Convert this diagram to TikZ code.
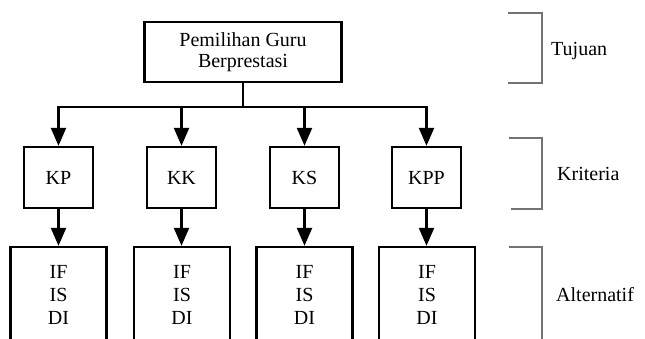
\documentclass[tikz,border=0pt]{standalone}
\usepackage{fontspec}
\setmainfont{Liberation Serif}
\usetikzlibrary{arrows.meta}

\begin{document}
\begin{tikzpicture}[
  x=1pt,y=-1pt,
  >={Triangle[length=18pt,width=15pt]},
  font=\fontsize{20}{21}\selectfont,
  box/.style={rectangle,draw=black,line width=2.4pt,inner sep=0pt,align=center},
  goal/.style={box,minimum width=197pt,minimum height=60pt},
  crit/.style={box,minimum width=69pt,minimum height=61pt},
  alt/.style={box,minimum width=96pt,minimum height=96pt,
              font=\fontsize{20}{23}\selectfont},
  wire/.style={line width=2.4pt,draw=black},
  arr/.style={->,line width=2.4pt,draw=black},
  brk/.style={draw=black!55,line width=1.5pt},
  lbl/.style={anchor=base west,inner sep=0pt},
]
  \path[use as bounding box] (0,0) rectangle (645,338);
  \clip (0,0) rectangle (645,338);

  % nodes
  \node[goal] (goal) at (243,52) {Pemilihan Guru\\Berprestasi};

  \node[crit] (kp)  at (58.5,177.5)  {KP};
  \node[crit] (kk)  at (181.5,177.5) {KK};
  \node[crit] (ks)  at (304.5,177.5) {KS};
  \node[crit] (kpp) at (426.5,177.5) {KPP};

  \node[alt] (akp)  at (58.5,295)  {IF\\IS\\DI};
  \node[alt] (akk)  at (182,295)   {IF\\IS\\DI};
  \node[alt] (aks)  at (304.5,295) {IF\\IS\\DI};
  \node[alt] (akpp) at (427,295)   {IF\\IS\\DI};

  % hierarchy lines
  \coordinate (bus) at (243,107);
  \draw[wire] (goal.south) -- (bus);
  \foreach \c in {kp,kk,ks,kpp}
    \draw[arr] (bus) -| (\c.north);
  \foreach \c/\a in {kp/akp,kk/akk,ks/aks,kpp/akpp}
    \draw[arr] (\c.south) -- (\c.south |- \a.north);

  % level brackets
  \draw[brk] (508,13) -| (542,83) -- (508,83);
  \draw[brk] (509,138) -| (542,209) -- (511,209);
  \draw[brk] (509,247) -| (542,345);

  \node[lbl] (tujuan)   at (551,55)  {Tujuan};
  \node[lbl] (kriteria) at (557,180) {Kriteria};
  \node[lbl] (alternatif) at (556,301) {Alternatif};
\end{tikzpicture}
\end{document}
